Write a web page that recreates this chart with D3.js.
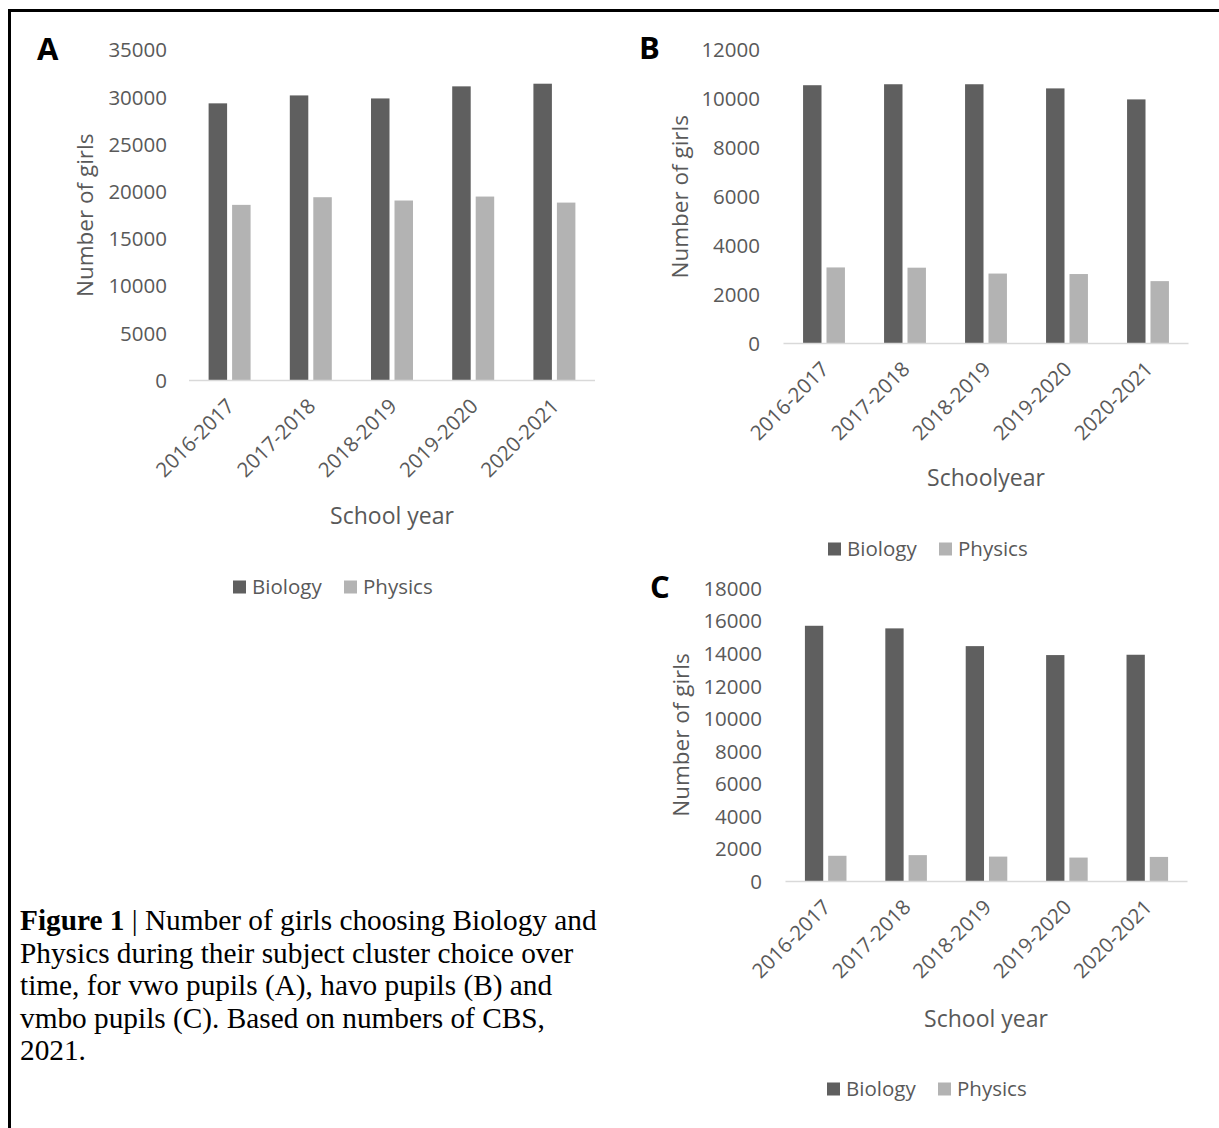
<!DOCTYPE html>
<html>
<head>
<meta charset="utf-8">
<script src="https://cdn.jsdelivr.net/npm/d3@7"></script>
<style>
  html, body { margin: 0; padding: 0; background: #fff; }
  svg { display: block; }
</style>
</head>
<body>
<svg id="fig" width="1219" height="1128"></svg>
<script>
// ---------------- DATA ----------------
const categories = ["2016-2017", "2017-2018", "2018-2019", "2019-2020", "2020-2021"];
const seriesNames = ["Biology", "Physics"];

const vwoBiology  = [29350, 30190, 29870, 31150, 31430];
const vwoPhysics  = [18600, 19410, 19060, 19480, 18840];

const havoBiology = [10560, 10600, 10600, 10430, 9980];
const havoPhysics = [3110, 3100, 2860, 2840, 2550];

const vmboBiology = [15710, 15550, 14460, 13910, 13930];
const vmboPhysics = [1580, 1620, 1530, 1470, 1510];

const ticksA = [0, 5000, 10000, 15000, 20000, 25000, 30000, 35000];
const ticksB = [0, 2000, 4000, 6000, 8000, 10000, 12000];
const ticksC = [0, 2000, 4000, 6000, 8000, 10000, 12000, 14000, 16000, 18000];

const captionLines = [
  [{t: "Figure 1", b: true}, {t: " | Number of girls choosing Biology and", b: false}],
  [{t: "Physics during their subject cluster choice over", b: false}],
  [{t: "time, for vwo pupils (A), havo pupils (B) and", b: false}],
  [{t: "vmbo pupils (C). Based on numbers of CBS,", b: false}],
  [{t: "2021.", b: false}]
];

// ---------------- STYLE ----------------
const colors = {Biology: "#5f5f5f", Physics: "#b3b3b3"};
const textGrey = "#595959";
const sans = "'Open Sans', 'DejaVu Sans', sans-serif";

const svg = d3.select("#fig");

// frame
svg.append("path")
  .attr("d", "M9.5,1128 L9.5,10.5 L1219,10.5")
  .attr("fill", "none").attr("stroke", "#000").attr("stroke-width", 3);

function panel(cfg) {
  const g = svg.append("g");
  const x0 = d3.scaleBand().domain(categories)
    .range([cfg.left, cfg.right]).paddingInner(0.483).paddingOuter(0.2415);
  const x1 = d3.scaleBand().domain(seriesNames)
    .range([0, x0.bandwidth()]).paddingInner(0.213);
  const y = d3.scaleLinear().domain([0, cfg.max]).range([cfg.bottom, cfg.top]);

  // y tick labels
  g.selectAll("text.ytick").data(cfg.ticks).join("text")
    .attr("class", "ytick")
    .attr("x", cfg.tickRight).attr("y", d => y(d))
    .attr("dy", "0.36em").attr("text-anchor", "end")
    .attr("font-family", sans).attr("font-size", 20.5).attr("fill", textGrey)
    .text(d => d);

  // bars
  const rows = categories.map((c, i) => ({c, vals: [
    {s: "Biology", v: cfg.bio[i]}, {s: "Physics", v: cfg.phys[i]}]}));
  const grp = g.selectAll("g.cat").data(rows).join("g")
    .attr("transform", d => `translate(${x0(d.c)},0)`);
  grp.selectAll("rect").data(d => d.vals).join("rect")
    .attr("x", d => x1(d.s)).attr("width", x1.bandwidth())
    .attr("y", d => y(d.v)).attr("height", d => y(0) - y(d.v))
    .attr("fill", d => colors[d.s]);

  // x axis line
  g.append("line")
    .attr("x1", cfg.left).attr("x2", cfg.right)
    .attr("y1", y(0)).attr("y2", y(0))
    .attr("stroke", "#d9d9d9").attr("stroke-width", 1.5);

  // x tick labels
  g.selectAll("text.xtick").data(categories).join("text")
    .attr("class", "xtick")
    .attr("transform", d => `translate(${x0(d) + x0.bandwidth() / 2 + 6},${y(0) + 27}) rotate(-45)`)
    .attr("text-anchor", "end")
    .attr("font-family", sans).attr("font-size", 20.5).attr("fill", textGrey)
    .text(d => d);

  // axis titles
  g.append("text")
    .attr("transform", `translate(${cfg.yTitleX},${(y(0) + y(cfg.max)) / 2}) rotate(-90)`)
    .attr("text-anchor", "middle").attr("dy", "0.35em")
    .attr("font-family", sans).attr("font-size", 22.5).attr("fill", textGrey)
    .text("Number of girls");
  g.append("text")
    .attr("x", cfg.xTitleX).attr("y", cfg.xTitleY).attr("dy", "0.35em")
    .attr("text-anchor", "middle")
    .attr("font-family", sans).attr("font-size", 23).attr("fill", textGrey)
    .text(cfg.xTitle);

  // panel letter
  g.append("text")
    .attr("x", cfg.letterX).attr("y", cfg.letterY)
    .attr("font-family", sans).attr("font-size", 31).attr("font-weight", "bold")
    .attr("fill", "#000")
    .text(cfg.letter);

  // legend
  const lg = g.append("g").attr("transform", `translate(${cfg.legendX},${cfg.legendY})`);
  const offs = [0, 111];
  seriesNames.forEach((s, i) => {
    lg.append("rect").attr("x", offs[i]).attr("y", -6.5).attr("width", 13).attr("height", 13)
      .attr("fill", colors[s]);
    lg.append("text").attr("x", offs[i] + 19).attr("y", 0).attr("dy", "0.36em")
      .attr("font-family", sans).attr("font-size", 20.5).attr("fill", textGrey)
      .text(s);
  });
}

panel({letter: "A", letterX: 37, letterY: 60,
  left: 189, right: 595, top: 50, bottom: 380.5, max: 35000, ticks: ticksA,
  tickRight: 167, bio: vwoBiology, phys: vwoPhysics,
  yTitleX: 85, xTitle: "School year", xTitleX: 392, xTitleY: 516,
  legendX: 233, legendY: 587});

panel({letter: "B", letterX: 639, letterY: 59,
  left: 783.5, right: 1188.5, top: 50, bottom: 343.5, max: 12000, ticks: ticksB,
  tickRight: 760, bio: havoBiology, phys: havoPhysics,
  yTitleX: 680, xTitle: "Schoolyear", xTitleX: 986, xTitleY: 478,
  legendX: 828, legendY: 549});

panel({letter: "C", letterX: 650, letterY: 598,
  left: 785.5, right: 1187.5, top: 588.5, bottom: 881.5, max: 18000, ticks: ticksC,
  tickRight: 762, bio: vmboBiology, phys: vmboPhysics,
  yTitleX: 681, xTitle: "School year", xTitleX: 986, xTitleY: 1019,
  legendX: 827, legendY: 1089});

// caption
const cap = svg.append("text")
  .attr("font-family", "'Liberation Serif', 'Times New Roman', serif")
  .attr("font-size", 29.3).attr("fill", "#000");
captionLines.forEach((line, i) => {
  line.forEach((seg, j) => {
    const ts = cap.append("tspan").text(seg.t).attr("font-weight", seg.b ? "bold" : "normal");
    if (j === 0) ts.attr("x", 20).attr("y", 930 + i * 32.6);
  });
});
</script>
</body>
</html>
